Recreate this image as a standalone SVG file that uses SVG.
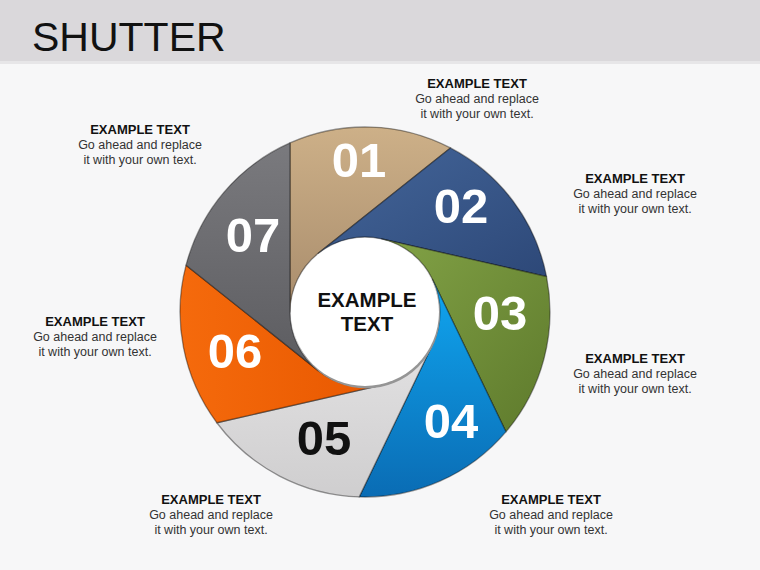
<svg xmlns="http://www.w3.org/2000/svg" width="760" height="570" viewBox="0 0 760 570">
<defs>
<style>
.lbl{font-family:"Liberation Sans",Arial,sans-serif;text-anchor:middle;}
.h{font-size:13px;font-weight:bold;fill:#111;}
.b{font-size:12.5px;fill:#333;}
.num{font-family:"Liberation Sans",Arial,sans-serif;font-size:49px;font-weight:bold;text-anchor:middle;fill:#fff;}
.blade{stroke:rgba(0,0,0,0.4);stroke-width:1.3;stroke-linejoin:round;}
.ctr{font-family:"Liberation Sans",Arial,sans-serif;font-size:20.5px;font-weight:bold;text-anchor:middle;fill:#111;}
</style>
<linearGradient id="g1" x1="0" y1="0" x2="0" y2="1"><stop offset="0" stop-color="#CDB088"/><stop offset="1" stop-color="#A88C6C"/></linearGradient>
<linearGradient id="g2" x1="0" y1="0" x2="1" y2="1"><stop offset="0" stop-color="#44669A"/><stop offset="1" stop-color="#2D4878"/></linearGradient>
<linearGradient id="g3" x1="0" y1="0" x2="1" y2="1"><stop offset="0" stop-color="#82A246"/><stop offset="1" stop-color="#5E7A2C"/></linearGradient>
<linearGradient id="g4" x1="0" y1="0" x2="0" y2="1"><stop offset="0" stop-color="#10A6F0"/><stop offset="1" stop-color="#0A6CB4"/></linearGradient>
<linearGradient id="g5" x1="0" y1="0" x2="0" y2="1"><stop offset="0" stop-color="#E2E1E2"/><stop offset="1" stop-color="#CFCECF"/></linearGradient>
<linearGradient id="g6" x1="0" y1="0" x2="1" y2="0"><stop offset="0" stop-color="#F56A0C"/><stop offset="1" stop-color="#E85800"/></linearGradient>
<linearGradient id="g7" x1="0" y1="0" x2="0" y2="1"><stop offset="0" stop-color="#7A7A7E"/><stop offset="1" stop-color="#5C5C60"/></linearGradient>
</defs>
<rect x="0" y="0" width="760" height="570" fill="#F7F7F8"/>
<rect x="0" y="0" width="760" height="61" fill="#DAD8DB"/>
<rect x="0" y="61" width="760" height="3" fill="#E7E6E8"/>
<text x="32" y="51" font-family="'Liberation Sans',Arial,sans-serif" font-size="41" fill="#111">SHUTTER</text>

<g id="blades">
<g id="blade01"><path class="blade" fill="url(#g1)" d="M290,142.9 A185,185 0 0 1 450.45,147.92 L318.24,253.36 A75,75 0 0 0 290,312 Z"/><text class="num" x="359" y="177">01</text></g>
<g id="blade02"><path class="blade" fill="url(#g2)" d="M450.45,147.92 A185,185 0 0 1 546.55,276.51 L381.69,238.88 A75,75 0 0 0 318.24,253.36 Z"/><text class="num" x="461" y="223">02</text></g>
<g id="blade03"><path class="blade" fill="url(#g3)" d="M546.55,276.51 A185,185 0 0 1 505.94,431.82 L432.57,279.46 A75,75 0 0 0 381.69,238.88 Z"/><text class="num" x="500" y="330">03</text></g>
<g id="blade04"><path class="blade" fill="url(#g4)" d="M505.94,431.82 A185,185 0 0 1 359.2,496.9 L432.57,344.54 A75,75 0 0 0 432.57,279.46 Z"/><text class="num" x="451" y="438">04</text></g>
<g id="blade05"><path class="blade" fill="url(#g5)" d="M359.2,496.9 A185,185 0 0 1 216.83,422.75 L381.69,385.12 A75,75 0 0 0 432.57,344.54 Z"/><text class="num" x="324" y="455" style="fill:#111">05</text></g>
<g id="blade06"><path class="blade" fill="url(#g6)" d="M216.83,422.75 A185,185 0 0 1 186.03,265.2 L318.24,370.64 A75,75 0 0 0 381.69,385.12 Z"/><text class="num" x="235" y="368">06</text></g>
<g id="blade07"><path class="blade" fill="url(#g7)" d="M186.03,265.2 A185,185 0 0 1 290,142.9 L290,312 A75,75 0 0 0 318.24,370.64 Z"/><text class="num" x="253" y="252">07</text></g>
</g>

<g id="center">
<circle cx="366" cy="314.5" r="74" fill="#959595"/>
<circle cx="365" cy="312" r="74" fill="#FFFFFF"/>
<text class="ctr" x="367" y="307">EXAMPLE</text>
<text class="ctr" x="367" y="331">TEXT</text>
</g>

<g id="label01" class="lbl"><text class="h" x="477" y="88">EXAMPLE TEXT</text><text class="b" x="477" y="103">Go ahead and replace</text><text class="b" x="477" y="117.5">it with your own text.</text></g>
<g id="label02" class="lbl"><text class="h" x="635" y="183">EXAMPLE TEXT</text><text class="b" x="635" y="198">Go ahead and replace</text><text class="b" x="635" y="212.5">it with your own text.</text></g>
<g id="label03" class="lbl"><text class="h" x="635" y="363">EXAMPLE TEXT</text><text class="b" x="635" y="378">Go ahead and replace</text><text class="b" x="635" y="392.5">it with your own text.</text></g>
<g id="label04" class="lbl"><text class="h" x="551" y="504">EXAMPLE TEXT</text><text class="b" x="551" y="519">Go ahead and replace</text><text class="b" x="551" y="533.5">it with your own text.</text></g>
<g id="label05" class="lbl"><text class="h" x="211" y="504">EXAMPLE TEXT</text><text class="b" x="211" y="519">Go ahead and replace</text><text class="b" x="211" y="533.5">it with your own text.</text></g>
<g id="label06" class="lbl"><text class="h" x="95" y="326">EXAMPLE TEXT</text><text class="b" x="95" y="341">Go ahead and replace</text><text class="b" x="95" y="355.5">it with your own text.</text></g>
<g id="label07" class="lbl"><text class="h" x="140" y="134">EXAMPLE TEXT</text><text class="b" x="140" y="149">Go ahead and replace</text><text class="b" x="140" y="163.5">it with your own text.</text></g>
</svg>
